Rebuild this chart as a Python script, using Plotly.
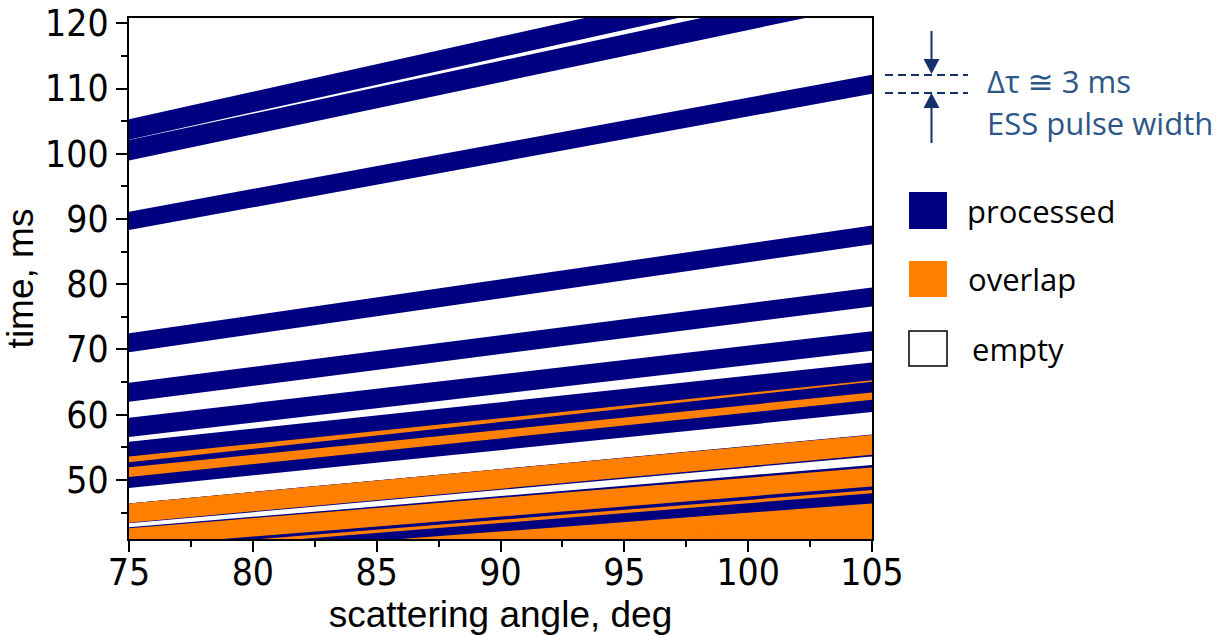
import numpy as np
import plotly.graph_objects as go

# ---------------------------------------------------------------------------
# Arrival-time bands versus scattering angle.
# Each band is bounded by a lower and an upper time (ms) given at the two
# ends of the angular range; the edges run straight between those ends.
# ---------------------------------------------------------------------------
angle_lo, angle_hi = 75.0, 105.0

band_ids = ["A", "B", "C", "D", "E", "F", "G", "H", "I",
            "J", "K", "L", "M", "N", "O", "S", "R1", "R2"]
low_at_75 = [102.15, 98.97, 88.30, 69.57, 62.00, 56.60, 52.70, 50.45, 48.75,
             43.45, 43.35, 39.80, 38.84, 36.34, 34.80, 33.60, 31.70, 31.50]
high_at_75 = [105.29, 102.10, 91.12, 72.48, 64.90, 59.55, 55.85, 53.60, 51.95,
              46.40, 46.40, 42.75, 42.60, 39.34, 37.80, 36.60, 34.80, 34.60]
low_at_105 = [127.40, 122.97, 109.20, 86.13, 76.60, 69.80, 65.06, 62.30, 60.40,
              53.85, 53.60, 49.00, 47.96, 45.46, 43.40, 42.60, 40.40, 40.20]
high_at_105 = [130.60, 126.40, 112.10, 89.00, 79.50, 72.80, 68.00, 65.30, 63.40,
               56.90, 56.95, 52.30, 51.90, 48.46, 46.40, 45.60, 43.50, 43.30]

x_ticks = [75, 80, 85, 90, 95, 100, 105]
y_ticks = [50, 60, 70, 80, 90, 100, 110, 120]
x_range = [75, 105]
y_range = [40.95, 120.81]

legend_labels = ["processed", "overlap", "empty"]

NAVY = "#000080"
ORANGE = "#FF8000"
NOTE_DARK = "#15306a"
NOTE_TEXT = "#2c5687"

# ---------------------------------------------------------------------------
# Page geometry (pixels) and helpers to place decorations outside the axes
# ---------------------------------------------------------------------------
W, H = 1227, 635
ML, MR, MT, MB = 129, 355, 18, 96
PW = W - ML - MR
PH = H - MT - MB


def px(xp):
    return (xp - ML) / PW


def py(yp):
    return (H - MB - yp) / PH


fig = go.Figure()

# sample angles used to trace band edges and their overlaps
theta = np.linspace(angle_lo, angle_hi, 241)


def edge(v75, v105):
    return np.interp(theta, [angle_lo, angle_hi], [v75, v105])


lows = [edge(a, b) for a, b in zip(low_at_75, low_at_105)]
highs = [edge(a, b) for a, b in zip(high_at_75, high_at_105)]

# single-coverage bands ("processed")
for i, name in enumerate(band_ids):
    fig.add_trace(go.Scatter(
        x=np.concatenate([theta, theta[::-1]]),
        y=np.concatenate([lows[i], highs[i][::-1]]),
        fill="toself", fillcolor=NAVY, mode="lines",
        line=dict(width=0, color=NAVY), hoverinfo="skip",
        showlegend=False, name=name))

# regions covered by two or more bands ("overlap")
for i in range(len(band_ids)):
    for j in range(i + 1, len(band_ids)):
        lo = np.maximum(lows[i], lows[j])
        hi = np.minimum(highs[i], highs[j])
        if np.all(hi <= lo):
            continue
        hi = np.maximum(hi, lo)
        fig.add_trace(go.Scatter(
            x=np.concatenate([theta, theta[::-1]]),
            y=np.concatenate([lo, hi[::-1]]),
            fill="toself", fillcolor=ORANGE, mode="lines",
            line=dict(width=0, color=ORANGE), hoverinfo="skip",
            showlegend=False, name=band_ids[i] + "+" + band_ids[j]))

tick_font = dict(family="Liberation Sans Narrow, Arial Narrow, DejaVu Sans Condensed, Liberation Sans",
                 size=37, color="black")
title_font = dict(family="Liberation Sans, Arial, sans-serif", size=37, color="black")

fig.update_xaxes(
    range=x_range, tickvals=x_ticks, ticks="outside", ticklen=11, tickwidth=2,
    tickcolor="black", showline=True, linecolor="black", linewidth=2, mirror=True,
    showgrid=False, zeroline=False, tickfont=tick_font, automargin=False,
    ticklabelstandoff=-11,
    minor=dict(dtick=2.5, ticks="outside", ticklen=6, tickwidth=2, tickcolor="black"),
    title=dict(text="scattering angle, deg", font=title_font, standoff=6))
fig.update_yaxes(
    range=y_range, tickvals=y_ticks, ticks="outside", ticklen=11, tickwidth=2,
    tickcolor="black", showline=True, linecolor="black", linewidth=2, mirror=True,
    showgrid=False, zeroline=False, tickfont=tick_font, automargin=False,
    minor=dict(dtick=5, ticks="outside", ticklen=6, tickwidth=2, tickcolor="black"),
    title=dict(text="time, ms", font=title_font, standoff=10))

shapes = []
annotations = []

# pulse-width marker: two dashed levels with converging arrows
for yl in (75, 93):
    shapes.append(dict(type="line", xref="paper", yref="paper",
                       x0=px(885), x1=px(968), y0=py(yl), y1=py(yl),
                       line=dict(color=NOTE_DARK, width=2, dash="8px,5px")))
ax_px = 931.5
shapes.append(dict(type="line", xref="paper", yref="paper",
                   x0=px(ax_px), x1=px(ax_px), y0=py(31), y1=py(62),
                   line=dict(color=NOTE_DARK, width=2)))
shapes.append(dict(type="path", xref="paper", yref="paper",
                   path=f"M {px(ax_px - 8)} {py(59)} L {px(ax_px + 8)} {py(59)} "
                        f"L {px(ax_px)} {py(74)} Z",
                   fillcolor=NOTE_DARK, line=dict(width=0)))
shapes.append(dict(type="line", xref="paper", yref="paper",
                   x0=px(ax_px), x1=px(ax_px), y0=py(105), y1=py(143),
                   line=dict(color=NOTE_DARK, width=2)))
shapes.append(dict(type="path", xref="paper", yref="paper",
                   path=f"M {px(ax_px - 8)} {py(108)} L {px(ax_px + 8)} {py(108)} "
                        f"L {px(ax_px)} {py(93)} Z",
                   fillcolor=NOTE_DARK, line=dict(width=0)))

note_font = dict(family="Open Sans, DejaVu Sans", size=31, color=NOTE_TEXT)
annotations.append(dict(xref="paper", yref="paper", x=px(985), y=py(81),
                        xanchor="left", yanchor="middle", showarrow=False,
                        text="\u0394\u03c4 \u2245 3 ms", font=note_font))
annotations.append(dict(xref="paper", yref="paper", x=px(985), y=py(123),
                        xanchor="left", yanchor="middle", showarrow=False,
                        text="ESS pulse width", font=note_font))

# legend swatches
swatch_rows = [(192, 229), (261, 297), (331, 366)]
swatch_fill = [NAVY, ORANGE, "white"]
swatch_line = [dict(width=0), dict(width=0), dict(color="black", width=1.5)]
legend_text_x = [965, 966, 970]
legend_font = dict(family="Open Sans, DejaVu Sans", size=31, color="black")
for (y0, y1), fc, ln, lab, tx in zip(swatch_rows, swatch_fill, swatch_line,
                                     legend_labels, legend_text_x):
    shapes.append(dict(type="rect", xref="paper", yref="paper",
                       x0=px(909), x1=px(947), y0=py(y1), y1=py(y0),
                       fillcolor=fc, line=ln))
    annotations.append(dict(xref="paper", yref="paper", x=px(tx), y=py((y0 + y1) / 2),
                            xanchor="left", yanchor="middle", showarrow=False,
                            text=lab, font=legend_font))

fig.update_layout(
    width=W, height=H,
    margin=dict(l=ML, r=MR, t=MT, b=MB, pad=0),
    paper_bgcolor="white", plot_bgcolor="white",
    shapes=shapes, annotations=annotations, showlegend=False)

fig.write_html("out.html")
